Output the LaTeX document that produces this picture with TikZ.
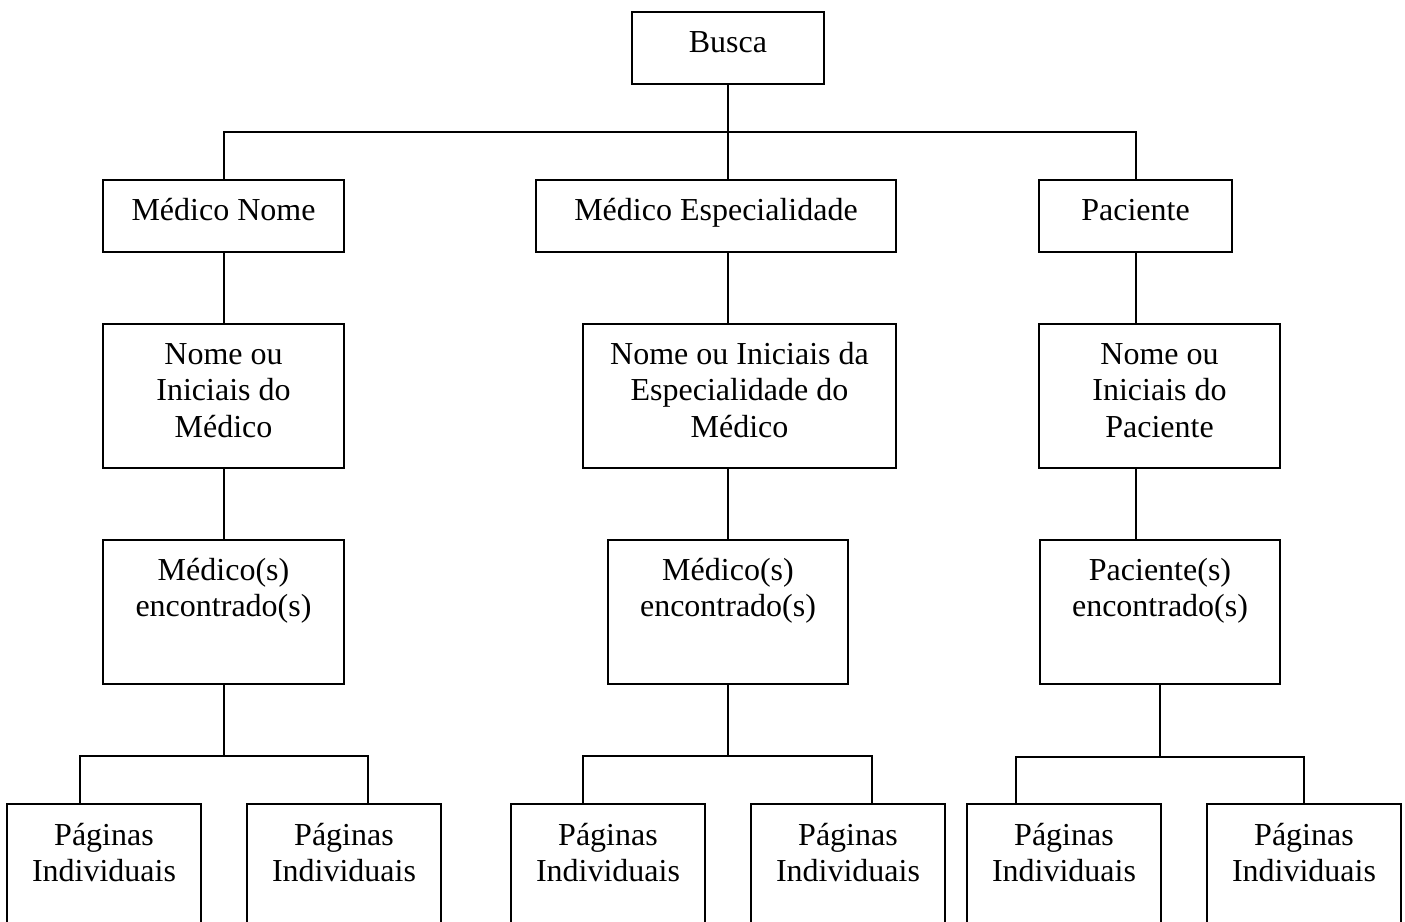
\documentclass[tikz,border=0pt]{standalone}
\usepackage{fontspec}
\setmainfont{Liberation Serif}
\begin{document}
\begin{tikzpicture}[x=0.5pt,y=-0.5pt,line width=1pt,
  box/.style={draw,inner sep=0pt,minimum width=#1},
  onerow/.style={minimum height=36pt},
  tworow/.style={minimum height=72pt},
  leaf/.style={inner sep=0pt,minimum width=96pt,minimum height=58.5pt},
  % the base anchor of a multi-line label is the baseline of its last line
  lbl/.style={anchor=base,inner sep=0pt,align=center,
    font=\fontsize{16pt}{18.4pt}\selectfont},
  line1/.style={yshift=-20.5pt},
  line2/.style={yshift=-38.9pt},
  line3/.style={yshift=-57.3pt}]
\useasboundingbox (0,0) rectangle (1405,922);

% top level
\node[box=96pt,onerow] (busca) at (728,48) {};
\node[lbl] (tbusca) at ([line1]busca.north) {Busca};

% second level
\node[box=120.5pt,onerow] (mn) at (223.5,216) {};
\node[box=180pt,onerow] (me) at (716,216) {};
\node[box=96.5pt,onerow] (pa) at (1135.5,216) {};
\node[lbl] (tmn) at ([line1]mn.north) {Médico Nome};
\node[lbl] (tme) at ([line1]me.north) {Médico Especialidade};
\node[lbl] (tpa) at ([line1]pa.north) {Paciente};

% search input
\node[box=120.5pt,tworow] (ni1) at (223.5,396) {};
\node[box=156.5pt,tworow] (ni2) at (739.5,396) {};
\node[box=120.5pt,tworow] (ni3) at (1159.5,396) {};
\node[lbl] (tni1) at ([line3]ni1.north) {Nome ou\\Iniciais do\\Médico};
\node[lbl] (tni2) at ([line3]ni2.north) {Nome ou Iniciais da\\Especialidade do\\Médico};
\node[lbl] (tni3) at ([line3]ni3.north) {Nome ou\\Iniciais do\\Paciente};

% results
\node[box=120.5pt,tworow] (me1) at (223.5,612) {};
\node[box=120pt,tworow] (me2) at (728,612) {};
\node[box=120pt,tworow] (pe3) at (1160,612) {};
\node[lbl] (tme1) at ([line2]me1.north) {Médico(s)\\encontrado(s)};
\node[lbl] (tme2) at ([line2]me2.north) {Médico(s)\\encontrado(s)};
\node[lbl] (tpe3) at ([line2]pe3.north) {Paciente(s)\\encontrado(s)};

% individual pages, open at the lower edge
\foreach \pg/\px in {p1a/104,p1b/344,p2a/608,p2b/848,p3a/1064,p3b/1304}{
  \node[leaf] (\pg) at (\px,863.5) {};
  \draw (\pg.south west) |- (\pg.north east) -- (\pg.south east);
  \node[lbl] (t\pg) at ([line2]\pg.north) {Páginas\\Individuais};
}

% connectors
\coordinate (bus) at (0,132);
\draw (mn.north) |- (bus -| busca.south) -| (pa.north);
\draw (busca.south) -- (busca.south |- me.north);

\draw (mn.south) -- (ni1.north);
\draw (ni1.south) -- (me1.north);
\draw (me2.north |- me.south) -- (me2.north |- ni2.north);
\draw (me2.north |- ni2.south) -- (me2.north);
\draw (pa.south) -- (pa.south |- ni3.north);
\draw (pa.south |- ni3.south) -- (pa.south |- pe3.north);

\coordinate (d1a) at (80,756);
\coordinate (d1b) at (368,756);
\coordinate (d2a) at (583,756);
\coordinate (d2b) at (872,756);
\coordinate (d3a) at (1016,757);
\coordinate (d3b) at (1304,757);
\draw (me1.south) -- (me1.south |- d1a);
\draw (d1a |- p1a.north) -- (d1a) -- (d1b) -- (d1b |- p1b.north);
\draw (me2.south) -- (me2.south |- d2a);
\draw (d2a |- p2a.north) -- (d2a) -- (d2b) -- (d2b |- p2b.north);
\draw (pe3.south) -- (pe3.south |- d3a);
\draw (d3a |- p3a.north) -- (d3a) -- (d3b) -- (d3b |- p3b.north);
\end{tikzpicture}
\end{document}
